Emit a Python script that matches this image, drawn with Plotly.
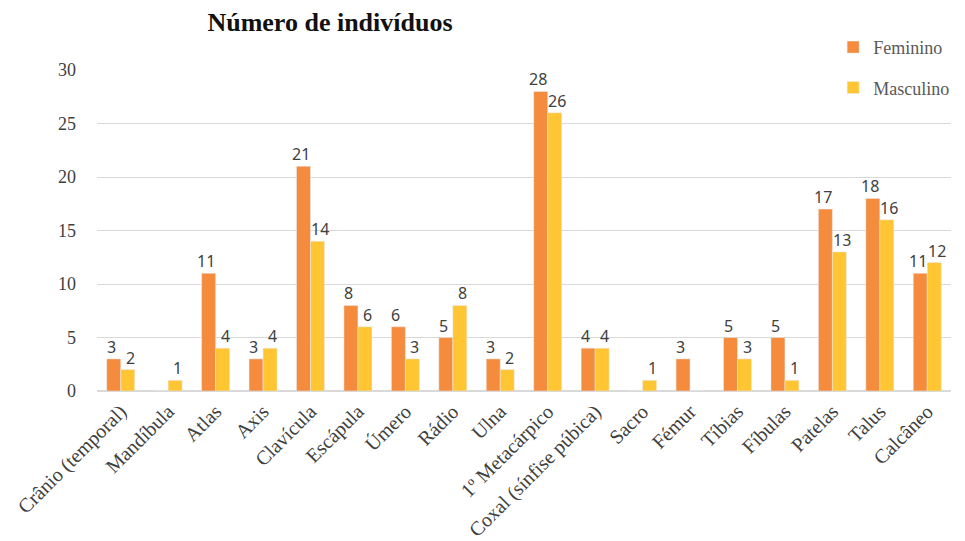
import plotly.graph_objects as go

categories = ["Crânio (temporal)", "Mandíbula", "Atlas", "Axis", "Clavícula", "Escápula",
              "Úmero", "Rádio", "Ulna", "1º Metacárpico", "Coxal (sínfise púbica)", "Sacro",
              "Fémur", "Tíbias", "Fíbulas", "Patelas", "Talus", "Calcâneo"]
feminino = [3, 0, 11, 3, 21, 8, 6, 5, 3, 28, 4, 0, 3, 5, 5, 17, 18, 11]
masculino = [2, 1, 4, 4, 14, 6, 3, 8, 2, 26, 4, 1, 0, 3, 1, 13, 16, 12]
y_ticks = [0, 5, 10, 15, 20, 25, 30]

fig = go.Figure()
for name, vals, color in [("Feminino", feminino, "#F58B3D"),
                          ("Masculino", masculino, "#FFC533")]:
    fig.add_trace(go.Bar(x=categories, y=vals, name=name, marker_color=color,
                         legendgroup=name))

# value labels above each bar (zero values are not labelled)
for vals, shift in [(feminino, -9.5), (masculino, 9.5)]:
    for cat, v in zip(categories, vals):
        if v > 0:
            fig.add_annotation(x=cat, y=v, text=str(v), showarrow=False,
                               xanchor="center", yanchor="bottom", xshift=shift, yshift=0,
                               borderpad=0,
                               font=dict(family="Noto Sans", size=16, color="#404040"))

fig.update_layout(
    width=965, height=541,
    margin=dict(l=89, r=22, t=62, b=158),
    paper_bgcolor="white", plot_bgcolor="white",
    barmode="group", bargap=0.41, bargroupgap=0,
    title=dict(text="<b>Número de indivíduos</b>", x=322/965, xanchor="center", xref="container",
               y=1-14/541, yanchor="middle", yref="container",
               font=dict(family="Liberation Serif", size=26, color="#111111")),
    legend=dict(x=0.862, y=1.128, xanchor="left", yanchor="top", bgcolor="white",
                font=dict(family="Liberation Serif", size=18, color="#595959"),
                tracegroupgap=14, traceorder="grouped", itemwidth=30),
    font=dict(family="Liberation Serif", color="#404040"),
)
fig.update_xaxes(tickangle=-45, tickfont=dict(family="Liberation Serif", size=20, color="#404040"),
                 showline=True, linecolor="#D9D9D9", linewidth=1, ticks="", automargin=False)
fig.update_yaxes(range=[0, 30], tickvals=y_ticks, showgrid=True, gridcolor="#D9D9D9",
                 zeroline=True, zerolinecolor="#D9D9D9", automargin=False,
                 tickfont=dict(family="Liberation Serif", size=18, color="#404040"),
                 ticklabelstandoff=20)

fig.write_html("out.html")
